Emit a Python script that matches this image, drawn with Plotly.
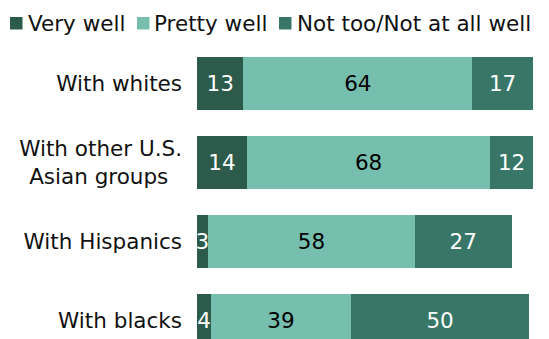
import plotly.graph_objects as go

categories = ["With whites", "With other U.S.<br>Asian groups", "With Hispanics", "With blacks"]
series_names = ["Very well", "Pretty well", "Not too/Not at all well"]
very_well = [13, 14, 3, 4]
pretty_well = [64, 68, 58, 39]
not_too_well = [17, 12, 27, 50]

colors = ["#2c5a4b", "#76bfae", "#387767"]
text_colors = ["white", "black", "white"]

# tick labels: second line of the two-line label is padded so it reads centred
tick_text = [c.replace("<br>Asian groups", "<br>Asian groups\u00a0\u00a0") for c in categories]

# page body has an 8px default margin; compensate so the figure lands at viewport coords
OFF = 8
VW, VH = 549, 339
W, H = VW - OFF, VH - OFF
L, R, T, B = 197 - OFF, 16, 44 - OFF, 0
PW, PH = W - L - R, H - T - B
FONT = "DejaVu Sans, Verdana, sans-serif"
FS = 21.5

def px_x(p):
    return (p - OFF - L) / PW

def px_y(p):
    return 1 - (p - OFF - T) / PH

fig = go.Figure()
for name, vals, c, tc in zip(series_names, [very_well, pretty_well, not_too_well], colors, text_colors):
    fig.add_trace(go.Bar(
        name=name, y=categories, x=vals, orientation="h",
        marker=dict(color=c, line=dict(width=0)),
        text=vals, texttemplate="%{x}", textposition="inside",
        insidetextanchor="middle", textangle=0, constraintext="none",
        insidetextfont=dict(color=tc, size=FS, family=FONT),
        showlegend=False, width=0.66,
    ))

# manual legend
sq_x = [10, 137, 279]
tx_x = [27, 153, 296]
shapes = []
annotations = []
for name, c, sx, tx in zip(series_names, colors, sq_x, tx_x):
    shapes.append(dict(type="rect", xref="paper", yref="paper",
                       x0=px_x(sx), x1=px_x(sx + 12.5), y0=px_y(17), y1=px_y(29.5),
                       fillcolor=c, line=dict(width=0)))
    annotations.append(dict(text=name, xref="paper", yref="paper", x=px_x(tx - 1), y=px_y(23.5),
                            xanchor="left", yanchor="middle", showarrow=False,
                            font=dict(size=FS, family=FONT, color="#111111")))

fig.update_layout(
    width=W, height=H, barmode="stack",
    margin=dict(l=L, r=R, t=T, b=B, pad=0),
    plot_bgcolor="white", paper_bgcolor="white",
    font=dict(family=FONT, size=FS, color="#111111"),
    shapes=shapes, annotations=annotations,
    xaxis=dict(range=[0, 94], visible=False),
    yaxis=dict(type="category", categoryorder="array", categoryarray=categories,
               tickmode="array", tickvals=categories, ticktext=tick_text,
               range=[3.234, -0.5], showgrid=False, showline=False, zeroline=False,
               ticks="", ticklabelstandoff=14, tickfont=dict(size=FS, family=FONT, color="#111111")),
)

fig.write_html("out.html")
